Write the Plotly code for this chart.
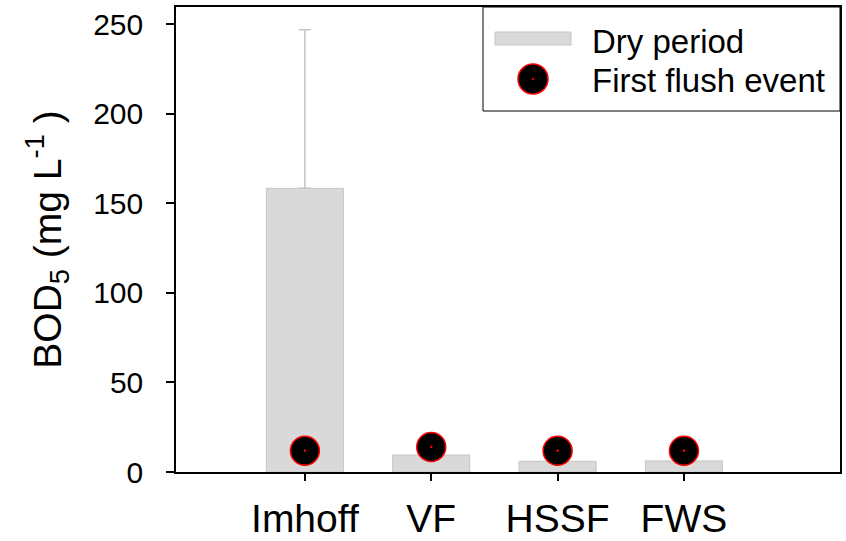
import plotly.graph_objects as go

categories = ["Imhoff", "VF", "HSSF", "FWS"]
dry_period = [158.3, 9.5, 6.0, 6.2]
dry_err_plus = [88.5, None, None, None]
dry_err_minus = [None, None, None, None]
first_flush = [11.9, 14.0, 11.9, 11.9]
y_ticks = [0, 50, 100, 150, 200, 250]

FONT = "Liberation Sans, Arial, sans-serif"

fig = go.Figure()
fig.add_trace(go.Bar(
    x=categories, y=dry_period, name="Dry period", width=0.61,
    marker=dict(color="#d9d9d9", line=dict(color="#c6c6c6", width=1)),
    error_y=dict(type="data", symmetric=False, array=dry_err_plus,
                 arrayminus=dry_err_minus, color="#c4c4c4", thickness=1.5, width=6),
    showlegend=False,
))
fig.add_trace(go.Scatter(
    x=categories, y=first_flush, mode="markers", name="First flush event",
    marker=dict(symbol="circle-dot", size=29, color="black",
                line=dict(color="red", width=1.5)),
    showlegend=False,
))

# custom legend (layout decoration)
L, R, T, B = 176, 840, 7, 472
def px(x): return (x - L) / (R - L)
def py(y): return (B - y) / (B - T)

shapes = [
    dict(type="rect", xref="paper", yref="paper", x0=px(483), x1=px(840), y0=py(111), y1=py(7),
         line=dict(color="black", width=1), fillcolor="white", layer="above"),
    dict(type="rect", xref="paper", yref="paper", x0=px(495), x1=px(571), y0=py(45), y1=py(32),
         line=dict(color="#c6c6c6", width=1), fillcolor="#d9d9d9", layer="above"),
    dict(type="circle", xref="paper", yref="paper", x0=px(518), x1=px(548), y0=py(94), y1=py(64),
         line=dict(color="red", width=1.5), fillcolor="black", layer="above"),
    dict(type="circle", xref="paper", yref="paper", x0=px(532), x1=px(534), y0=py(80), y1=py(78),
         line=dict(color="red", width=0.5), fillcolor="red", layer="above"),
]
annotations = [
    dict(text="Dry period", xref="paper", yref="paper", x=px(590), y=py(41), xanchor="left",
         yanchor="middle", showarrow=False, font=dict(family=FONT, size=33, color="black")),
    dict(text="First flush event", xref="paper", yref="paper", x=px(590), y=py(80), xanchor="left",
         yanchor="middle", showarrow=False, font=dict(family=FONT, size=33, color="black")),
]

fig.update_layout(
    width=846, height=541,
    margin=dict(l=L, r=846 - R, t=T, b=541 - B),
    plot_bgcolor="white", paper_bgcolor="white",
    font=dict(family=FONT, color="black"),
    shapes=shapes, annotations=annotations,
    showlegend=False,
)
fig.update_xaxes(
    range=[-1.02, 4.235], showline=True, linecolor="black", linewidth=1.5, mirror=True,
    ticks="outside", ticklen=7, tickcolor="black", tickwidth=1.5,
    tickfont=dict(family=FONT, size=39, color="black"), ticklabelstandoff=4,
    showgrid=False, zeroline=False, automargin=False,
)
fig.update_yaxes(
    range=[0, 259.5], showline=True, linecolor="black", linewidth=1.5, mirror=True,
    ticks="outside", ticklen=8, tickcolor="black", tickwidth=1.5,
    tickvals=y_ticks, tickfont=dict(family=FONT, size=30, color="black"), ticklabelstandoff=17,
    showgrid=False, zeroline=False, automargin=False,
    title=dict(text="BOD<sub>5</sub> (mg L<sup>-1</sup> )", font=dict(family=FONT, size=39, color="black"),
               standoff=20),
)

fig.write_html("out.html")
